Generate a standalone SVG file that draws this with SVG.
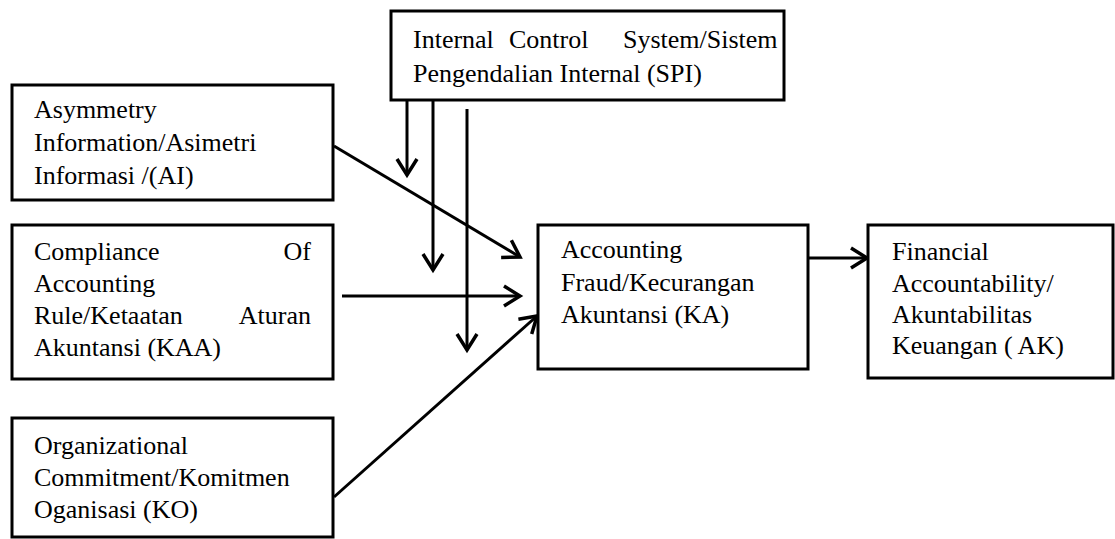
<svg xmlns="http://www.w3.org/2000/svg" width="1115" height="539" viewBox="0 0 1115 539">
<style>
.box{fill:#fff;stroke:#000;stroke-width:3}
.t{font-family:"Liberation Serif","Times New Roman",serif;font-size:26px;fill:#000}
.c{fill:none;stroke:#000;stroke-width:3;marker-end:url(#ah)}
</style>
<defs>
<marker id="ah" markerUnits="userSpaceOnUse" viewBox="-22 -14 26 28" markerWidth="26" markerHeight="28" refX="0" refY="0" orient="auto" overflow="visible">
<path d="M-16,-10 L0,0 L-16,10" fill="none" stroke="#000" stroke-width="3.5" stroke-linejoin="miter"/>
</marker>
</defs>
<rect width="1115" height="539" fill="#fff"/>
<g id="connectors">
<line class="c" x1="407" y1="100" x2="407" y2="175"/>
<line class="c" x1="433" y1="100" x2="433" y2="270"/>
<line class="c" x1="467" y1="109" x2="467" y2="350"/>
<line class="c" x1="334" y1="146" x2="520" y2="257"/>
<line class="c" x1="342" y1="296" x2="520" y2="296"/>
<line class="c" x1="334" y1="497" x2="537" y2="316"/>
<line class="c" x1="808" y1="258" x2="867" y2="258"/>
</g>
<g id="spi">
<rect class="box" x="391" y="11" width="393" height="89"/>
<text class="t" y="48"><tspan x="413">Internal</tspan><tspan x="509">Control</tspan><tspan x="623">System/Sistem</tspan></text>
<text class="t" x="413" y="82">Pengendalian Internal (SPI)</text>
</g>
<g id="ai">
<rect class="box" x="12" y="85" width="321" height="115"/>
<text class="t" x="34" y="118">Asymmetry</text>
<text class="t" x="34" y="151">Information/Asimetri</text>
<text class="t" x="34" y="184">Informasi /(AI)</text>
</g>
<g id="kaa">
<rect class="box" x="12" y="225" width="321" height="154"/>
<text class="t" x="34" y="260">Compliance</text>
<text class="t" x="311" y="260" text-anchor="end">Of</text>
<text class="t" x="34" y="292">Accounting</text>
<text class="t" x="34" y="324">Rule/Ketaatan</text>
<text class="t" x="311" y="324" text-anchor="end">Aturan</text>
<text class="t" x="34" y="356">Akuntansi (KAA)</text>
</g>
<g id="ko">
<rect class="box" x="12" y="418" width="321" height="119"/>
<text class="t" x="34" y="454">Organizational</text>
<text class="t" x="34" y="486">Commitment/Komitmen</text>
<text class="t" x="34" y="518">Oganisasi (KO)</text>
</g>
<g id="ka">
<rect class="box" x="538" y="225" width="270" height="144"/>
<text class="t" x="561" y="258">Accounting</text>
<text class="t" x="561" y="291">Fraud/Kecurangan</text>
<text class="t" x="561" y="323">Akuntansi (KA)</text>
</g>
<g id="ak">
<rect class="box" x="868" y="225" width="245" height="153"/>
<text class="t" x="892" y="260">Financial</text>
<text class="t" x="892" y="292">Accountability/</text>
<text class="t" x="892" y="323">Akuntabilitas</text>
<text class="t" x="892" y="354">Keuangan ( AK)</text>
</g>
</svg>
